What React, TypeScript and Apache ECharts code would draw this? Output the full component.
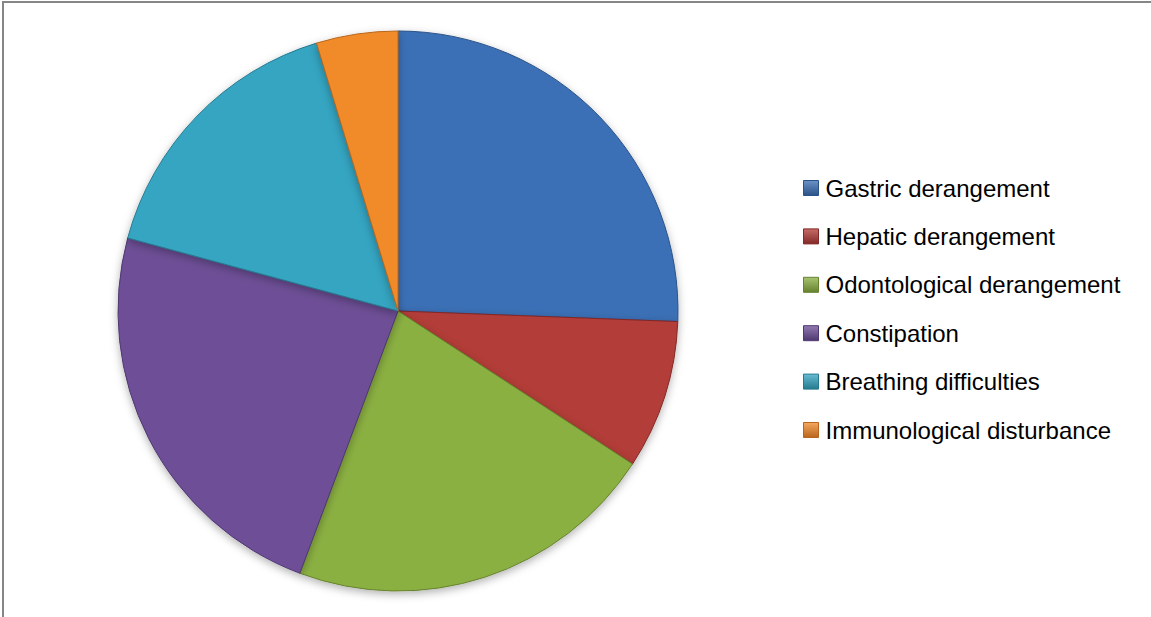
import React, { useEffect, useRef } from "react";
import * as echarts from "echarts";

const categories = [
  "Gastric derangement",
  "Hepatic derangement",
  "Odontological derangement",
  "Constipation",
  "Breathing difficulties",
  "Immunological disturbance",
];
const values = [25.6, 8.6, 21.5, 23.5, 16.1, 4.7];
const colors = ["#3B6FB6", "#B33C38", "#8BB043", "#6E4F97", "#36A5C2", "#F18B2B"];
const edgeColors = ["#2A5287", "#822826", "#66822E", "#4F3870", "#267A90", "#B8661C"];

function lighten(hex: string, amt: number): string {
  const n = parseInt(hex.slice(1), 16);
  const r = (n >> 16) & 255, g = (n >> 8) & 255, b = n & 255;
  const f = (c: number) => Math.round(c + (255 - c) * amt);
  return `rgb(${f(r)},${f(g)},${f(b)})`;
}

export default function App() {
  const ref = useRef<HTMLDivElement>(null);
  useEffect(() => {
    document.body.style.margin = "0";
    const chart = echarts.init(ref.current!, null, { renderer: "svg" });
    chart.setOption({
      animation: false,
      backgroundColor: "#ffffff",
      graphic: [
        {
          type: "rect",
          shape: { x: 3, y: 2, width: 1300, height: 800 },
          style: { fill: "none", stroke: "#868686", lineWidth: 2 },
          silent: true,
        },
      ],
      legend: {
        orient: "vertical",
        left: 803,
        top: 176,
        padding: 0,
        itemWidth: 15,
        itemHeight: 15,
        itemGap: 24.4,
        icon: "rect",
        data: categories.map((c, i) => ({
          name: c,
          itemStyle: {
            color: {
              type: "linear", x: 0, y: 0, x2: 0, y2: 1,
              colorStops: [
                { offset: 0, color: lighten(colors[i], 0.25) },
                { offset: 1, color: edgeColors[i] },
              ],
            },
            borderColor: edgeColors[i],
            borderWidth: 1,
          },
        })),
        textStyle: {
          fontFamily: "Liberation Sans, Arial, sans-serif",
          fontSize: 24,
          lineHeight: 24,
          color: "#000000",
          padding: [0, 0, 0, 2],
        },
      },
      series: [
        {
          type: "pie",
          center: [398, 311],
          radius: [0, 280],
          startAngle: 90,
          clockwise: true,
          label: { show: false },
          labelLine: { show: false },
          emphasis: { disabled: true },
          data: categories.map((c, i) => ({
            name: c,
            value: values[i],
            itemStyle: {
              color: {
                type: "radial", x: 0.5, y: 0.5, r: 0.9,
                colorStops: [
                  { offset: 0, color: colors[i] },
                  { offset: 0.85, color: colors[i] },
                  { offset: 1, color: lighten(colors[i], 0.2) },
                ],
              },
              borderColor: edgeColors[i],
              borderWidth: 1,
              shadowBlur: 8,
              shadowOffsetY: 3,
              shadowColor: "rgba(0,0,0,0.3)",
            },
          })),
        },
      ],
    });
    return () => chart.dispose();
  }, []);
  return (
    <div
      ref={ref}
      style={{ position: "absolute", left: 0, top: 0, width: 1151, height: 617 }}
    />
  );
}
